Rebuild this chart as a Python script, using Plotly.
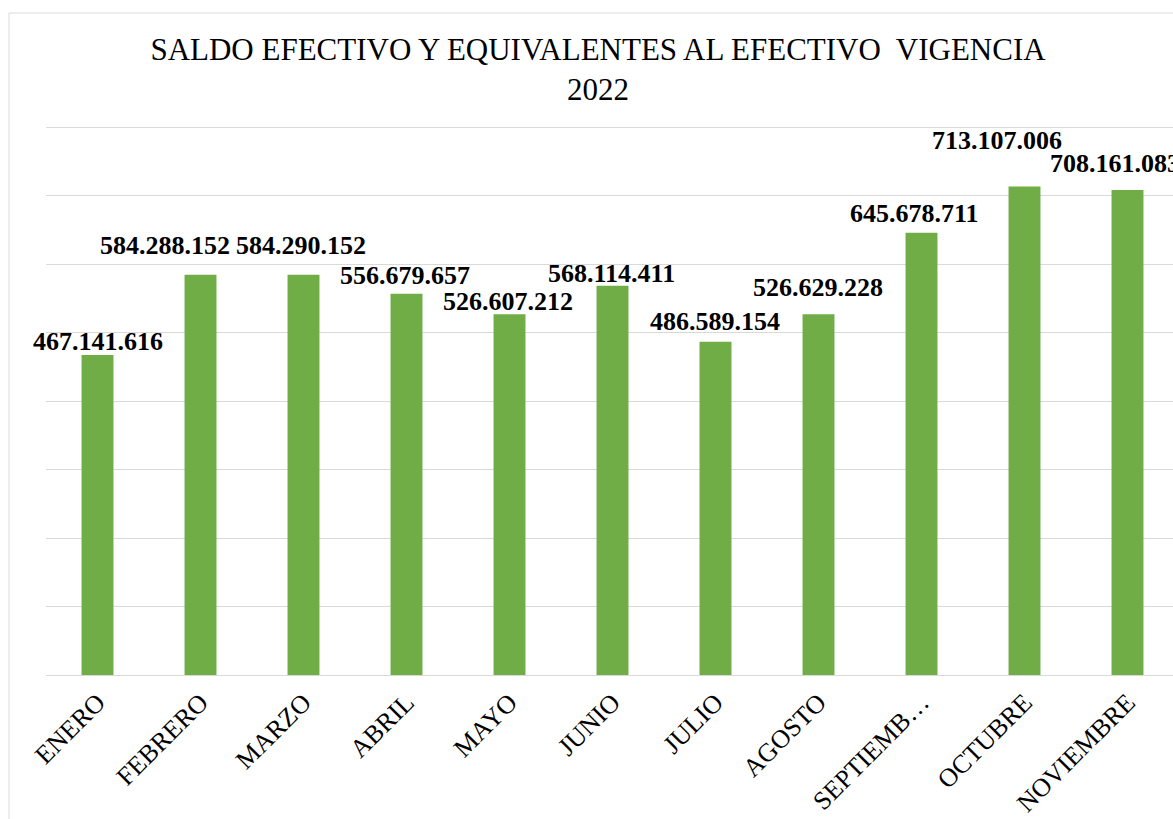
import plotly.graph_objects as go

months = ["ENERO", "FEBRERO", "MARZO", "ABRIL", "MAYO", "JUNIO", "JULIO",
          "AGOSTO", "SEPTIEMBRE", "OCTUBRE", "NOVIEMBRE"]
tick_labels = ["ENERO", "FEBRERO", "MARZO", "ABRIL", "MAYO", "JUNIO", "JULIO",
               "AGOSTO", "SEPTIEMB…", "OCTUBRE", "NOVIEMBRE"]
saldo = [467141616, 584288152, 584290152, 556679657, 526607212, 568114411,
         486589154, 526629228, 645678711, 713107006, 708161083]

# manual label offsets (pixels), as placed in the original chart
label_dx = [0, -36, -3, -2, -2, -1, -1, -1, -7, -28, -13]
label_dy = [14, 29, 29, 18, 13, 12, 20, 27, 19, 46, 26]

FONT = "Liberation Serif, Times New Roman, serif"
GREEN = "#70AD47"
GRID = "#D9D9D9"

fig = go.Figure()
fig.add_trace(go.Bar(
    x=months, y=saldo, marker=dict(color=GREEN, line=dict(width=0)),
    hoverinfo="skip", showlegend=False,
))

for m, v, dx, dy in zip(months, saldo, label_dx, label_dy):
    fig.add_annotation(
        x=m, y=v, xref="x", yref="y",
        text=f"{v:,}".replace(",", "."),
        showarrow=False, xanchor="center", yanchor="middle",
        xshift=dx, yshift=dy,
        font=dict(family=FONT, size=26, color="black", weight="bold"),
    )

# chart border
fig.add_shape(type="rect", xref="paper", yref="paper",
              x0=-37 / 1127, x1=1.3, y0=-0.6, y1=(549 + 113) / 549,
              line=dict(color=GRID, width=1), fillcolor="rgba(0,0,0,0)",
              layer="below")

fig.update_layout(
    width=1173, height=819,
    margin=dict(l=46, r=0, t=126, b=144, autoexpand=False),
    paper_bgcolor="white", plot_bgcolor="white",
    bargap=0.69,
    title=dict(
        text="SALDO EFECTIVO Y EQUIVALENTES AL EFECTIVO  VIGENCIA<br>2022",
        font=dict(family=FONT, size=31, color="black"),
        xref="container", x=598 / 1173, xanchor="center",
        yref="container", y=1 - 59.5 / 819, yanchor="middle",
    ),
    xaxis=dict(
        range=[-0.5, -0.5 + 1127 / 103],
        tickmode="array", tickvals=months, ticktext=tick_labels,
        tickangle=-45, showgrid=False, showline=False, ticks="",
        ticklabelstandoff=6, automargin=False,
        tickfont=dict(family=FONT, size=26, color="black"),
    ),
    yaxis=dict(
        range=[0, 801.5e6], dtick=100e6, showticklabels=False,
        showgrid=True, gridcolor=GRID, gridwidth=1.3,
        zeroline=True, zerolinecolor=GRID, zerolinewidth=1.3,
        showline=False, automargin=False,
    ),
)

fig.write_html(
    "out.html",
    config={"displayModeBar": False},
    post_script="document.body.style.margin='0';document.body.style.overflow='hidden';",
)
